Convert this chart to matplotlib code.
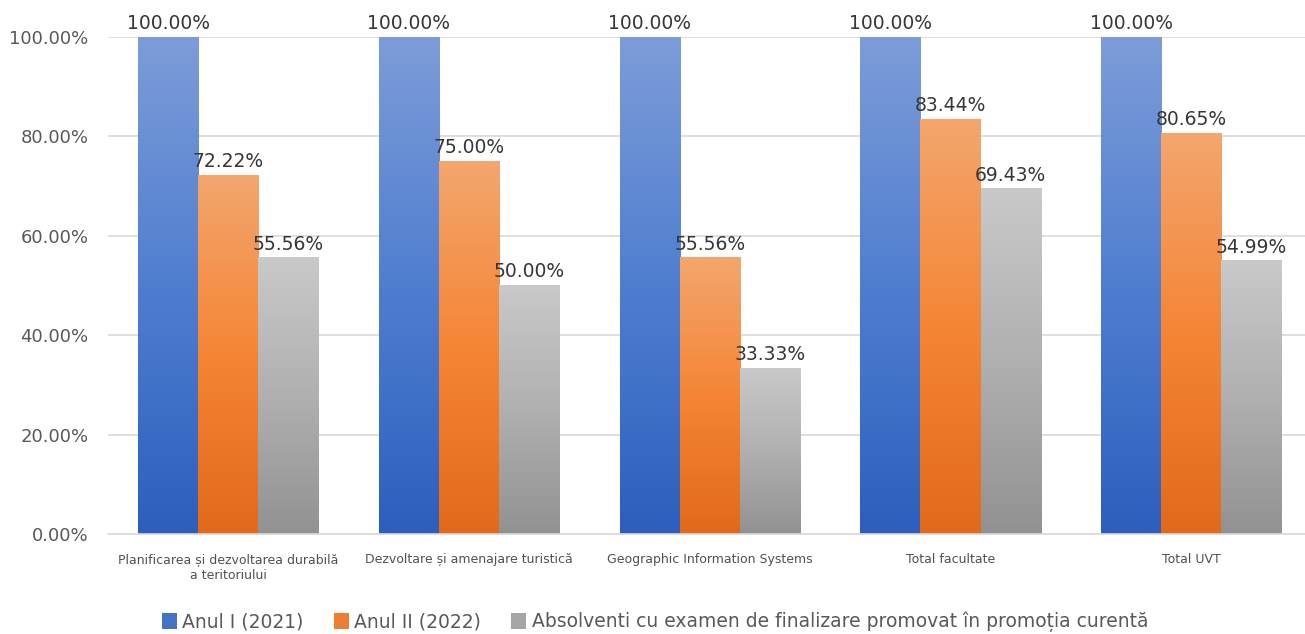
import matplotlib.pyplot as plt
import numpy as np
from matplotlib.colors import LinearSegmentedColormap
from matplotlib.patches import Patch

categorii = ['Planificarea și dezvoltarea durabilă\na teritoriului',
             'Dezvoltare și amenajare turistică',
             'Geographic Information Systems',
             'Total facultate',
             'Total UVT']
serii = ['Anul I (2021)', 'Anul II (2022)',
         'Absolventi cu examen de finalizare promovat în promoția curentă']
anul_1 = [100.00, 100.00, 100.00, 100.00, 100.00]
anul_2 = [72.22, 75.00, 55.56, 83.44, 80.65]
absolventi = [55.56, 50.00, 33.33, 69.43, 54.99]

# gradient stops top -> bottom
gradiente = [['#7d9cd8', '#4f7ed0', '#2d5ebd'],
             ['#f3a66e', '#f58535', '#e2691b'],
             ['#c9c9c9', '#b0b0b0', '#929292']]
culori_legenda = ['#4472c4', '#ed7d31', '#a5a5a5']

fig = plt.figure(figsize=(13.05, 6.34), dpi=100)
ax = fig.add_axes([108 / 1305, 1 - 534 / 634, (1311.6 - 108) / 1305, 497 / 634])

x = np.arange(len(categorii))
w = 0.25
grad = np.linspace(1, 0, 256).reshape(-1, 1)
for i, vals in enumerate([anul_1, anul_2, absolventi]):
    cmap = LinearSegmentedColormap.from_list('g%d' % i, gradiente[i][::-1])
    bars = ax.bar(x + (i - 1) * w, vals, width=w, color='none', zorder=2)
    for b in bars:
        x0, h = b.get_x(), b.get_height()
        ax.imshow(grad, extent=(x0, x0 + b.get_width(), 0, h), aspect='auto',
                  cmap=cmap, origin='upper', zorder=2)
        ax.annotate(f'{h:.2f}%', (x0 + b.get_width() / 2, h),
                    xytext=(0, 3), textcoords='offset points',
                    ha='center', va='bottom', fontsize=13.5, color='#363636',
                    zorder=4, annotation_clip=False)

ax.set_xlim(-0.5, len(categorii) - 0.5)
ax.set_ylim(0, 100)
ax.set_yticks(np.arange(0, 101, 20))
ax.set_yticklabels([f'{v:.2f}%' for v in range(0, 101, 20)])
ax.set_xticks(x)
ax.set_xticklabels(categorii, fontsize=9, color='#505050', linespacing=1.3)
ax.tick_params(axis='y', labelsize=13, colors='#595959', length=0, pad=14)
ax.tick_params(axis='x', length=0, pad=14)
ax.grid(axis='y', color='#d9d9d9', linewidth=1.2, zorder=0)
ax.set_axisbelow(True)
for s in ['top', 'right', 'left']:
    ax.spines[s].set_visible(False)
ax.spines['bottom'].set_color('#d9d9d9')
ax.spines['bottom'].set_linewidth(1.2)

handles = [Patch(facecolor=c) for c in culori_legenda]
fig.legend(handles, serii, loc='center', bbox_to_anchor=(655 / 1305, 1 - 622 / 634),
           ncol=3, frameon=False, fontsize=13.5, labelcolor='#595959',
           handlelength=0.8, handleheight=0.9, handletextpad=0.3, columnspacing=1.6)

fig.savefig('out.png', dpi=100)
